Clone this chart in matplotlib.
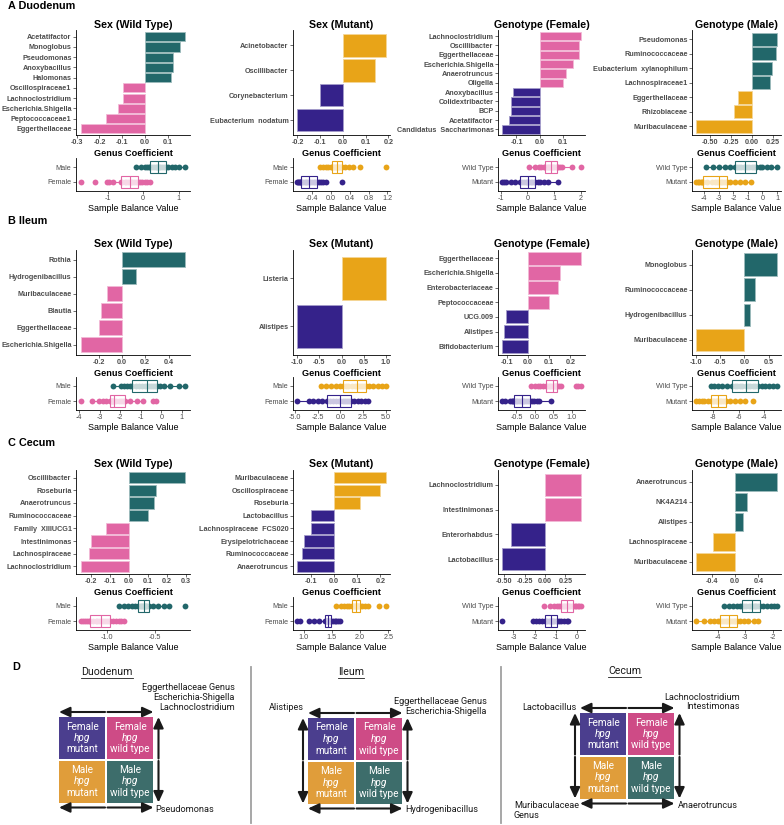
import numpy as np
import matplotlib.pyplot as plt
from matplotlib.ticker import MultipleLocator, FuncFormatter
from matplotlib.colors import to_rgb

plt.rcParams["font.family"] = ["Liberation Sans", "DejaVu Sans"]
plt.rcParams["axes.unicode_minus"] = False

WIDTH, HEIGHT = 784, 825

TEAL = "#22676A"
PINK = "#E166A4"
ORANGE = "#E8A418"
PURPLE = "#35228A"

# ---------------- bar data (genus coefficients, listed top to bottom) ----------------
DUO_SEX_WT_GENERA = ["Acetatifactor", "Monoglobus", "Pseudomonas", "Anoxybacillus", "Halomonas",
                     "Oscillospiraceae1", "Lachnoclostridium", "Escherichia.Shigella",
                     "Peptococcaceae1", "Eggerthellaceae"]
DUO_SEX_WT_COEF = [0.173, 0.154, 0.123, 0.123, 0.114, -0.099, -0.099, -0.119, -0.17, -0.28]

DUO_SEX_MUT_GENERA = ["Acinetobacter", "Oscillibacter", "Corynebacterium", "Eubacterium  nodatum"]
DUO_SEX_MUT_COEF = [0.188, 0.14, -0.10, -0.20]

DUO_GEN_F_GENERA = ["Lachnoclostridium", "Oscillibacter", "Eggerthellaceae", "Escherichia.Shigella",
                    "Anaerotruncus", "Oligella", "Anoxybacillus", "Colidextribacter", "BCP",
                    "Acetatifactor", "Candidatus  Saccharimonas"]
DUO_GEN_F_COEF = [0.18, 0.172, 0.172, 0.143, 0.113, 0.103, -0.113, -0.123, -0.123, -0.133, -0.163]

DUO_GEN_M_GENERA = ["Pseudomonas", "Ruminococcaceae", "Eubacterium  xylanophilum", "Lachnospiraceae1",
                    "Eggerthellaceae", "Rhizobiaceae", "Muribaculaceae"]
DUO_GEN_M_COEF = [0.30, 0.288, 0.235, 0.215, -0.17, -0.208, -0.665]

ILE_SEX_WT_GENERA = ["Rothia", "Hydrogenibacillus", "Muribaculaceae", "Blautia", "Eggerthellaceae",
                     "Escherichia.Shigella"]
ILE_SEX_WT_COEF = [0.54, 0.12, -0.13, -0.18, -0.20, -0.35]

ILE_SEX_MUT_GENERA = ["Listeria", "Alistipes"]
ILE_SEX_MUT_COEF = [1.0, -1.0]

ILE_GEN_F_GENERA = ["Eggerthellaceae", "Escherichia.Shigella", "Enterobacteriaceae", "Peptococcaceae",
                    "UCG.009", "Alistipes", "Bifidobacterium"]
ILE_GEN_F_COEF = [0.25, 0.15, 0.14, 0.10, -0.102, -0.113, -0.122]

ILE_GEN_M_GENERA = ["Monoglobus", "Ruminococcaceae", "Hydrogenibacillus", "Muribaculaceae"]
ILE_GEN_M_COEF = [0.67, 0.22, 0.12, -0.99]

CEC_SEX_WT_GENERA = ["Oscillibacter", "Roseburia", "Anaerotruncus", "Ruminococcaceae",
                     "Family  XIIIUCG1", "Intestinimonas", "Lachnospiraceae", "Lachnoclostridium"]
CEC_SEX_WT_COEF = [0.293, 0.141, 0.133, 0.10, -0.122, -0.20, -0.214, -0.253]

CEC_SEX_MUT_GENERA = ["Muribaculaceae", "Oscillospiraceae", "Roseburia", "Lactobacillus",
                      "Lachnospiraceae  FCS020", "Erysipelotrichaceae", "Ruminococcaceae", "Anaerotruncus"]
CEC_SEX_MUT_COEF = [0.223, 0.20, 0.112, -0.10, -0.10, -0.131, -0.139, -0.16]

CEC_GEN_F_GENERA = ["Lachnoclostridium", "Intestinimonas", "Enterorhabdus", "Lactobacillus"]
CEC_GEN_F_COEF = [0.44, 0.44, -0.41, -0.526]

CEC_GEN_M_GENERA = ["Anaerotruncus", "NK4A214", "Alistipes", "Lachnospiraceae", "Muribaculaceae"]
CEC_GEN_M_COEF = [0.72, 0.197, 0.14, -0.376, -0.674]

# ---------------- sample balance values ----------------
DUO_SEX_WT_MALE = [-0.19, -0.05, 0.05, 0.12, 0.16, 0.19, 0.25, 0.3, 0.35, 0.39, 0.41, 0.44, 0.48, 0.53,
                   0.58, 0.63, 0.7, 0.8, 0.9, 1.0, 1.17]
DUO_SEX_WT_FEMALE = [-1.74, -1.34, -1.02, -0.95, -0.85, -0.61, -0.58, -0.52, -0.47, -0.42, -0.38, -0.34,
                     -0.3, -0.26, -0.2, -0.15, -0.1, -0.02, 0.05, 0.12, 0.19]
DUO_SEX_MUT_MALE = [-0.22, -0.15, -0.1, -0.05, 0.0, 0.03, 0.06, 0.08, 0.1, 0.12, 0.13, 0.15, 0.17, 0.2,
                    0.22, 0.24, 0.3, 0.38, 0.48, 0.62, 1.16]
DUO_SEX_MUT_FEMALE = [-0.70, -0.68, -0.66, -0.65, -0.63, -0.62, -0.58, -0.55, -0.52, -0.49, -0.46, -0.43,
                      -0.4, -0.36, -0.33, -0.29, -0.25, -0.2, -0.15, -0.1, 0.23]
DUO_GEN_F_WT = [0.06, 0.3, 0.42, 0.5, 0.6, 0.67, 0.72, 0.77, 0.81, 0.85, 0.88, 0.92, 0.96, 1.0, 1.05,
                1.09, 1.15, 1.22, 1.3, 1.65, 2.0]
DUO_GEN_F_MUT = [-0.95, -0.88, -0.8, -0.6, -0.45, -0.28, -0.2, -0.13, -0.07, -0.02, 0.02, 0.07, 0.12,
                 0.18, 0.24, 0.3, 0.38, 0.48, 0.6, 0.75, 1.14]
DUO_GEN_M_WT = [-3.9, -3.4, -3.0, -2.6, -2.2, -1.9, -1.75, -1.6, -1.45, -1.3, -1.2, -1.05, -0.9, -0.75,
                -0.6, -0.43, -0.2, 0.0, 0.3, 0.6, 1.0]
DUO_GEN_M_MUT = [-4.57, -4.45, -4.35, -4.25, -4.15, -4.1, -3.8, -3.5, -3.25, -3.1, -2.96, -2.85, -2.75,
                 -2.62, -2.5, -2.43, -2.2, -1.9, -1.55, -1.2, -0.76]

ILE_SEX_WT_MALE = [-2.35, -1.95, -1.8, -1.65, -1.5, -1.41, -1.25, -1.1, -0.95, -0.8, -0.7, -0.6, -0.5,
                   -0.4, -0.3, -0.22, -0.05, 0.15, 0.4, 0.85, 1.14]
ILE_SEX_WT_FEMALE = [-3.89, -3.35, -3.03, -2.85, -2.7, -2.51, -2.45, -2.4, -2.37, -2.34, -2.32, -2.2,
                     -2.05, -1.95, -1.85, -1.76, -1.5, -1.2, -0.89, -0.41, -0.25]
ILE_SEX_MUT_MALE = [-2.1, -1.6, -1.0, -0.5, 0.0, 0.26, 0.6, 0.9, 1.3, 1.6, 1.87, 2.0, 2.2, 2.4, 2.6,
                    2.87, 3.2, 3.6, 4.2, 4.6, 5.0]
ILE_SEX_MUT_FEMALE = [-4.74, -3.5, -3.0, -2.5, -2.0, -1.49, -1.1, -0.8, -0.5, -0.2, 0.0, 0.25, 0.5,
                      0.75, 1.0, 1.19, 1.5, 1.9, 2.3, 2.7, 3.1]
ILE_GEN_F_WT = [-0.11, 0.0, 0.08, 0.15, 0.22, 0.29, 0.33, 0.37, 0.41, 0.45, 0.48, 0.51, 0.54, 0.56,
                0.58, 0.6, 0.65, 0.72, 1.1, 1.18, 1.25]
ILE_GEN_F_MUT = [-0.89, -0.8, -0.67, -0.63, -0.6, -0.57, -0.52, -0.47, -0.42, -0.38, -0.35, -0.32,
                 -0.28, -0.24, -0.19, -0.14, -0.08, -0.02, 0.05, 0.1, 0.43]
ILE_GEN_M_WT = [-8.15, -7.9, -7.6, -7.3, -6.9, -6.5, -6.3, -6.1, -5.9, -5.7, -5.46, -5.3, -5.1, -4.9,
                -4.7, -4.5, -4.2, -3.9, -3.6, -3.3, -3.0]
ILE_GEN_M_MUT = [-9.34, -9.1, -8.9, -8.7, -8.4, -8.15, -8.0, -7.9, -7.8, -7.7, -7.6, -7.5, -7.4, -7.25,
                 -7.1, -6.98, -6.7, -6.3, -5.9, -5.5, -4.9]

CEC_SEX_WT_MALE = [-0.88, -0.82, -0.78, -0.74, -0.71, -0.68, -0.66, -0.65, -0.64, -0.63, -0.62, -0.61,
                   -0.6, -0.59, -0.58, -0.56, -0.52, -0.47, -0.41, -0.36, -0.19]
CEC_SEX_WT_FEMALE = [-1.27, -1.25, -1.23, -1.21, -1.19, -1.18, -1.15, -1.12, -1.1, -1.08, -1.06, -1.04,
                     -1.02, -1.0, -0.98, -0.97, -0.94, -0.91, -0.88, -0.85, -0.82]
CEC_SEX_MUT_MALE = [1.58, 1.66, 1.72, 1.77, 1.81, 1.85, 1.87, 1.89, 1.9, 1.92, 1.93, 1.94, 1.95, 1.97,
                    1.98, 2.0, 2.04, 2.09, 2.14, 2.33, 2.45]
CEC_SEX_MUT_FEMALE = [0.89, 0.94, 1.1, 1.18, 1.27, 1.38, 1.39, 1.4, 1.41, 1.42, 1.43, 1.44, 1.45, 1.46,
                      1.47, 1.49, 1.52, 1.55, 1.58, 1.61, 1.64]
CEC_GEN_F_WT = [-1.58, -1.3, -1.1, -0.95, -0.85, -0.74, -0.68, -0.62, -0.56, -0.5, -0.46, -0.42, -0.38,
                -0.32, -0.26, -0.2, -0.12, -0.05, 0.02, 0.1, 0.18]
CEC_GEN_F_MUT = [-3.54, -2.09, -1.95, -1.8, -1.65, -1.52, -1.46, -1.4, -1.33, -1.28, -1.23, -1.18,
                 -1.13, -1.07, -1.02, -0.97, -0.85, -0.75, -0.62, -0.5, -0.43]
CEC_GEN_M_WT = [-3.77, -3.6, -3.45, -3.3, -3.2, -3.12, -3.05, -2.97, -2.88, -2.8, -2.74, -2.7, -2.65,
                -2.6, -2.54, -2.48, -2.35, -2.2, -2.08, -1.95, -1.85]
CEC_GEN_M_MUT = [-4.79, -4.5, -4.3, -4.15, -4.0, -3.91, -3.85, -3.78, -3.71, -3.65, -3.59, -3.54, -3.48,
                 -3.42, -3.36, -3.3, -3.2, -3.05, -2.9, -2.7, -2.53]

SECTION_LABELS = ["A Duodenum", "B Ileum", "C Cecum"]
PANEL_TITLES = ["Sex (Wild Type)", "Sex (Mutant)", "Genotype (Female)", "Genotype (Male)"]
SEX_GROUPS = ["Male", "Female"]
GENOTYPE_GROUPS = ["Wild Type", "Mutant"]

# ---------------- panel D text ----------------
D_HEADINGS = ["Duodenum", "Ileum", "Cecum"]
D_SEX = ["Female", "Male"]
D_GENOTYPE = ["mutant", "wild type"]
D_DUO_TOP = "Eggerthellaceae Genus\nEscherichia-Shigella\nLachnoclostridium"
D_DUO_BOTTOM = "Pseudomonas"
D_ILE_LEFT = "Alistipes"
D_ILE_TOP = "Eggerthellaceae Genus\nEscherichia-Shigella"
D_ILE_BOTTOM = "Hydrogenibacillus"
D_CEC_LEFT = "Lactobacillus"
D_CEC_TOP = "Lachnoclostridium\nIntestimonas"
D_CEC_BOTTOM_LEFT = "Muribaculaceae\nGenus"
D_CEC_BOTTOM_RIGHT = "Anaerotruncus"

# ---------------- layout (pixels) ----------------
COLUMN_X = [(76, 190), (293, 390), (498, 585), (692, 781)]
ROW_BAR_Y = [(30.5, 135), (249.5, 355), (470, 574)]
ROW_BOX_Y = [(158, 191), (377, 410), (597, 630)]
SECTION_Y = [6, 221, 443]
COLUMN_COLORS = [(TEAL, PINK), (ORANGE, PURPLE), (PINK, PURPLE), (TEAL, ORANGE)]
COLUMN_GROUPS = [SEX_GROUPS, SEX_GROUPS, GENOTYPE_GROUPS, GENOTYPE_GROUPS]

PANELS = [
    # row, col, genera, coef, top group, bottom group, bar tick step, box tick step
    (0, 0, DUO_SEX_WT_GENERA, DUO_SEX_WT_COEF, DUO_SEX_WT_MALE, DUO_SEX_WT_FEMALE, 0.1, 1),
    (0, 1, DUO_SEX_MUT_GENERA, DUO_SEX_MUT_COEF, DUO_SEX_MUT_MALE, DUO_SEX_MUT_FEMALE, 0.1, 0.4),
    (0, 2, DUO_GEN_F_GENERA, DUO_GEN_F_COEF, DUO_GEN_F_WT, DUO_GEN_F_MUT, 0.1, 1),
    (0, 3, DUO_GEN_M_GENERA, DUO_GEN_M_COEF, DUO_GEN_M_WT, DUO_GEN_M_MUT, 0.25, 1),
    (1, 0, ILE_SEX_WT_GENERA, ILE_SEX_WT_COEF, ILE_SEX_WT_MALE, ILE_SEX_WT_FEMALE, 0.2, 1),
    (1, 1, ILE_SEX_MUT_GENERA, ILE_SEX_MUT_COEF, ILE_SEX_MUT_MALE, ILE_SEX_MUT_FEMALE, 0.5, 2.5),
    (1, 2, ILE_GEN_F_GENERA, ILE_GEN_F_COEF, ILE_GEN_F_WT, ILE_GEN_F_MUT, 0.1, 0.5),
    (1, 3, ILE_GEN_M_GENERA, ILE_GEN_M_COEF, ILE_GEN_M_WT, ILE_GEN_M_MUT, 0.5, 2),
    (2, 0, CEC_SEX_WT_GENERA, CEC_SEX_WT_COEF, CEC_SEX_WT_MALE, CEC_SEX_WT_FEMALE, 0.1, 0.5),
    (2, 1, CEC_SEX_MUT_GENERA, CEC_SEX_MUT_COEF, CEC_SEX_MUT_MALE, CEC_SEX_MUT_FEMALE, 0.1, 0.5),
    (2, 2, CEC_GEN_F_GENERA, CEC_GEN_F_COEF, CEC_GEN_F_WT, CEC_GEN_F_MUT, 0.25, 1),
    (2, 3, CEC_GEN_M_GENERA, CEC_GEN_M_COEF, CEC_GEN_M_WT, CEC_GEN_M_MUT, 0.4, 1),
]


def px_axes(fig, x0, x1, y0, y1):
    return fig.add_axes([x0 / WIDTH, 1 - y1 / HEIGHT, (x1 - x0) / WIDTH, (y1 - y0) / HEIGHT])


def lighten(color, amount):
    r, g, b = to_rgb(color)
    return (r + (1 - r) * amount, g + (1 - g) * amount, b + (1 - b) * amount)


def style_axes(ax, step):
    for side in ("top", "right"):
        ax.spines[side].set_visible(False)
    for side in ("left", "bottom"):
        ax.spines[side].set_linewidth(0.6)
    ax.tick_params(length=2, width=0.5, pad=1.2, colors="#333333",
                   labelcolor="#4D4D4D", labelsize=5.2)
    decimals = len(str(step).split(".")[1]) if "." in str(step) else 0
    ax.xaxis.set_major_locator(MultipleLocator(step))
    ax.xaxis.set_major_formatter(FuncFormatter(lambda v, _: f"{round(v, decimals) + 0:.{decimals}f}"))


def draw_bars(ax, title, genera, coef, pos_color, neg_color, step):
    n = len(genera)
    ys = np.arange(n)[::-1]
    colors = [pos_color if c > 0 else neg_color for c in coef]
    ax.barh(ys, coef, height=0.9, color=colors,
            edgecolor=[lighten(c, 0.55) for c in colors], linewidth=0.6)
    ax.set_ylim(-0.6, n - 0.4)
    ax.set_yticks(ys, genera)
    style_axes(ax, step)
    ax.set_title(title, fontsize=7.7, fontweight="bold", pad=2)
    ax.set_xlabel("Genus Coefficient", fontsize=6.6, fontweight="bold", labelpad=1.5)


def draw_box(ax, groups, top_vals, bottom_vals, top_color, bottom_color, step):
    for pos, vals, col in ((1, top_vals, top_color), (0, bottom_vals, bottom_color)):
        ax.plot(vals, np.full(len(vals), pos), "o", color=col, ms=4.2, mec="none", zorder=2)
        ax.boxplot([vals], positions=[pos], orientation="horizontal", widths=0.75,
                   showfliers=False, showcaps=False, manage_ticks=False, patch_artist=True,
                   boxprops=dict(edgecolor=col, facecolor=(1, 1, 1, 0.75), lw=0.8),
                   whiskerprops=dict(color=col, lw=0.8),
                   medianprops=dict(color=col, lw=0.8), zorder=3)
    ax.set_ylim(-0.6, 1.6)
    ax.set_yticks([1, 0], groups)
    style_axes(ax, step)
    ax.set_xlabel("Sample Balance Value", fontsize=6.5, labelpad=1)


def double_arrow(ax, p0, p1):
    mx, my = (p0[0] + p1[0]) / 2, (p0[1] + p1[1]) / 2
    for end in (p0, p1):
        dx, dy = end[0] - mx, end[1] - my
        length = np.hypot(dx, dy)
        start = (mx + dx / length * 1.2, my + dy / length * 1.2)
        ax.annotate("", xy=end, xytext=start,
                    arrowprops=dict(arrowstyle="-|>,head_length=0.65,head_width=0.3",
                                    color="#1A1A1A", lw=1.5, shrinkA=0, shrinkB=0,
                                    mutation_scale=10))


fig = plt.figure(figsize=(WIDTH / 100, HEIGHT / 100), dpi=100)

bar_axes = []
for row, col, genera, coef, top_vals, bottom_vals, bar_step, box_step in PANELS:
    x0, x1 = COLUMN_X[col]
    pos_color, neg_color = COLUMN_COLORS[col]
    ax_bar = px_axes(fig, x0, x1, *ROW_BAR_Y[row])
    draw_bars(ax_bar, PANEL_TITLES[col], genera, coef, pos_color, neg_color, bar_step)
    bar_axes.append(ax_bar)
    ax_box = px_axes(fig, x0, x1, *ROW_BOX_Y[row])
    draw_box(ax_box, COLUMN_GROUPS[col], top_vals, bottom_vals, pos_color, neg_color, box_step)

# overlay in pixel coordinates for section labels and panel D
over = fig.add_axes([0, 0, 1, 1])
over.set_xlim(0, WIDTH)
over.set_ylim(HEIGHT, 0)
over.axis("off")

for label, y in zip(SECTION_LABELS, SECTION_Y):
    over.text(8, y, label, fontsize=7.8, fontweight="bold", ha="left", va="center")
over.text(12, 667, "D", fontsize=7.8, fontweight="bold", ha="left", va="center")

D_FILL = [["#4B3E8E", "#CE4B86"], ["#E09D3A", "#3D6D6B"]]
D_FONT = ["Roboto", "DejaVu Sans"]
CELL_W, CELL_H, CELL_GAP, ARROW_OFF = 46.5, 42, 1.5, 5

DIAGRAMS = [
    dict(x0=59, y0=717, head=(107, 672), arrows=("top", "bottom", "right"),
         labels=[(D_DUO_TOP, 235, 697.5, "right"), (D_DUO_BOTTOM, 155, 809, "left")]),
    dict(x0=308, y0=718, head=(351, 672), arrows=("top", "bottom", "left", "right"),
         labels=[(D_ILE_LEFT, 304, 708, "right"), (D_ILE_TOP, 487, 706.5, "right"),
                 (D_ILE_BOTTOM, 405, 810, "left")]),
    dict(x0=580, y0=713, head=(625, 671), arrows=("top", "bottom", "left", "right"),
         labels=[(D_CEC_LEFT, 577, 707, "right"), (D_CEC_TOP, 740, 702, "right"),
                 (D_CEC_BOTTOM_LEFT, 514, 810.5, "left"), (D_CEC_BOTTOM_RIGHT, 678, 806, "left")]),
]

headings = []
for heading, d in zip(D_HEADINGS, DIAGRAMS):
    x0, y0 = d["x0"], d["y0"]
    for r in range(2):
        for c in range(2):
            cx0 = x0 + c * (CELL_W + CELL_GAP)
            cy0 = y0 + r * (CELL_H + CELL_GAP)
            over.add_patch(plt.Rectangle((cx0, cy0), CELL_W, CELL_H, color=D_FILL[r][c], lw=0))
            cx, cy = cx0 + CELL_W / 2, cy0 + CELL_H / 2
            over.text(cx, cy - 11.5, D_SEX[r], color="white", fontsize=7.2, family=D_FONT,
                      ha="center", va="center")
            over.text(cx, cy, "hpg", color="white", fontsize=7.2, family=D_FONT, style="italic",
                      ha="center", va="center")
            over.text(cx, cy + 11.5, D_GENOTYPE[c], color="white", fontsize=7.2, family=D_FONT,
                      ha="center", va="center")
    x1 = x0 + 2 * CELL_W + CELL_GAP
    y1 = y0 + 2 * CELL_H + CELL_GAP
    if "top" in d["arrows"]:
        double_arrow(over, (x0, y0 - ARROW_OFF), (x1, y0 - ARROW_OFF))
    if "bottom" in d["arrows"]:
        double_arrow(over, (x0, y1 + ARROW_OFF), (x1, y1 + ARROW_OFF))
    if "left" in d["arrows"]:
        double_arrow(over, (x0 - ARROW_OFF, y0), (x0 - ARROW_OFF, y1))
    if "right" in d["arrows"]:
        double_arrow(over, (x1 + ARROW_OFF, y0), (x1 + ARROW_OFF, y1))
    for text, tx, ty, ha in d["labels"]:
        over.text(tx, ty, text, fontsize=6.6, family=D_FONT, ha=ha, va="center",
                  multialignment=ha, linespacing=1.1, color="#1A1A1A")
    hx, hy = d["head"]
    headings.append(over.text(hx, hy, heading, fontsize=7.6, family=D_FONT,
                              ha="center", va="center", color="#1A1A1A"))

for sx in (251, 501):
    over.plot([sx, sx], [667, 823], color="#A0A0A0", lw=1.3)

fig.canvas.draw()
renderer = fig.canvas.get_renderer()
for t in headings:
    bb = t.get_window_extent(renderer)
    y_line = HEIGHT - bb.y0 + 0.5
    over.plot([bb.x0, bb.x1], [y_line, y_line], color="#1A1A1A", lw=0.6)

for ax in bar_axes:
    for lab in ax.get_xticklabels() + ax.get_yticklabels():
        lab.set_fontweight("bold")

fig.savefig("out.png", dpi=100)
